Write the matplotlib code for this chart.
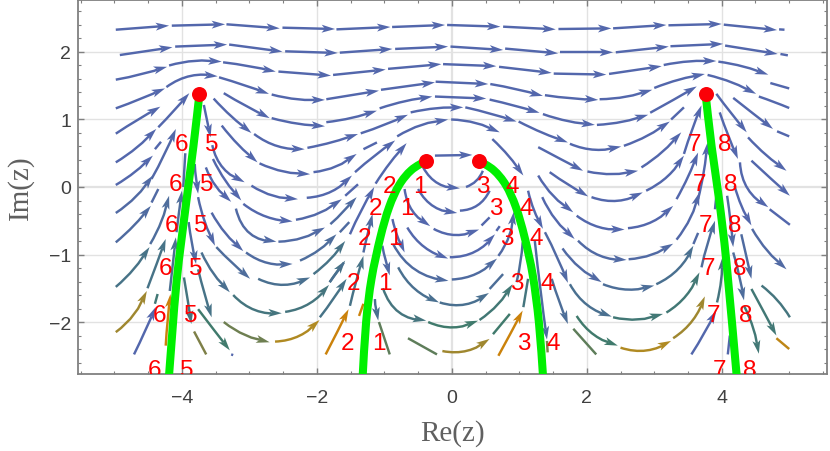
import numpy as np
import matplotlib
matplotlib.use("Agg")
from matplotlib import pyplot as plt
from matplotlib.colors import LinearSegmentedColormap
from matplotlib.patches import PathPatch, Polygon
from matplotlib.path import Path
from matplotlib.transforms import IdentityTransform

# stream pieces: (speed level, points), arrow at the last point
top_rows = [
    (0, [(-4.98, 2.33), (-4.19, 2.39)]), (0, [(-4.15, 2.39), (-3.36, 2.41)]),
    (0, [(-3.34, 2.41), (-2.55, 2.35)]), (0, [(-2.51, 2.36), (-1.73, 2.34)]),
    (0, [(-1.71, 2.335), (-0.91, 2.37)]), (0, [(-0.885, 2.37), (-0.10, 2.40)]),
    (0, [(-0.07, 2.40), (0.72, 2.375)]), (0, [(0.76, 2.375), (1.54, 2.335)]),
    (0, [(1.58, 2.34), (2.365, 2.35)]), (0, [(2.39, 2.35), (3.18, 2.40)]),
    (0, [(3.21, 2.395), (4.0, 2.415)]), (0, [(4.03, 2.405), (4.82, 2.325)]),
    (0, [(-4.92, 1.955), (-4.14, 2.07)]), (0, [(-4.10, 2.08), (-3.33, 2.11)]),
    (0, [(-3.30, 2.11), (-2.51, 2.005)]), (0, [(-2.47, 2.01), (-1.69, 1.985)]),
    (0, [(-1.66, 1.99), (-0.88, 2.045)]), (0, [(-0.84, 2.045), (-0.055, 2.08)]),
    (0, [(-0.02, 2.08), (0.76, 2.03)]), (0, [(0.79, 2.05), (1.575, 1.98)]),
    (0, [(1.61, 1.995), (2.39, 1.995)]), (0, [(2.43, 1.995), (3.215, 2.08)]),
    (0, [(3.24, 2.085), (4.02, 2.12)]), (0, [(4.05, 2.095), (4.83, 1.97)]),
    (0, [(-4.98, 1.59), (-4.6, 1.67), (-4.22, 1.78)]), (0, [(-4.19, 1.80), (-3.8, 1.87), (-3.41, 1.857)]),
    (0, [(-3.39, 1.847), (-3.0, 1.79), (-2.61, 1.71)]), (0, [(-2.57, 1.71), (-1.79, 1.65)]),
    (0, [(-1.76, 1.66), (-0.98, 1.74)]), (0, [(-0.945, 1.75), (-0.155, 1.82)]),
    (0, [(-0.13, 1.82), (0.66, 1.79)]), (0, [(0.70, 1.78), (1.48, 1.69)]),
    (0, [(1.51, 1.68), (2.29, 1.665)]), (0, [(2.33, 1.675), (3.11, 1.79)]),
    (0, [(3.14, 1.807), (3.5, 1.86), (3.92, 1.866)]), (0, [(3.95, 1.857), (4.3, 1.79), (4.69, 1.664)]),
    (0, [(-4.98, 1.165), (-4.6, 1.31), (-4.25, 1.46)]), (0, [(-4.23, 1.48), (-3.85, 1.65), (-3.47, 1.64)]),
    (0, [(-3.45, 1.625), (-3.05, 1.5), (-2.71, 1.38)]), (0, [(-2.67, 1.37), (-2.3, 1.3), (-1.88, 1.29)]),
    (0, [(-1.86, 1.30), (-1.08, 1.427)]), (0, [(-1.05, 1.44), (-0.25, 1.55)]),
    (0, [(-0.24, 1.56), (0.54, 1.525)]), (0, [(0.57, 1.525), (1.0, 1.44), (1.35, 1.35)]),
    (0, [(1.38, 1.36), (1.8, 1.31), (2.17, 1.29)]), (0, [(2.19, 1.30), (2.6, 1.34), (2.97, 1.44)]),
    (0, [(3.0, 1.467), (3.4, 1.6), (3.75, 1.674)]), (0, [(3.79, 1.66), (4.15, 1.55), (4.51, 1.38)]),
    (0, [(-3.38, 1.39), (-3.05, 1.2), (-2.70, 1.02)]), (0, [(-2.67, 1.02), (-2.3, 0.94), (-1.88, 0.90)]),
    (0, [(-1.86, 0.96), (-1.5, 1.02), (-1.11, 1.13)]), (0, [(-1.07, 1.165), (-0.7, 1.27), (-0.29, 1.34)]),
    (0, [(-0.25, 1.34), (0.51, 1.31)]), (0, [(0.56, 1.295), (0.95, 1.2), (1.30, 1.10)]),
    (0, [(1.35, 1.08), (1.7, 0.98), (2.12, 0.92)]), (0, [(2.15, 0.92), (2.55, 0.97), (2.91, 1.07)]),
    (0, [(2.94, 1.10), (3.3, 1.3), (3.63, 1.49)]),
    (0, [(-3.53, 1.31), (-3.25, 1.03), (-2.97, 0.80)]), (0, [(-2.93, 0.785), (-2.6, 0.61), (-2.18, 0.56)]),
    (0, [(-2.14, 0.58), (-1.75, 0.67), (-1.39, 0.785)]), (0, [(-1.35, 0.795), (-1.0, 0.92), (-0.65, 1.07)]),
    (0, [(-0.61, 1.105), (-0.2, 1.17), (0.17, 1.18)]), (0, [(0.2, 1.18), (0.6, 1.08), (0.96, 0.97)]),
    (0, [(0.99, 0.97), (1.35, 0.8), (1.72, 0.66)]), (0, [(1.75, 0.64), (2.14, 0.55), (2.51, 0.60)]),
    (0, [(2.55, 0.61), (2.9, 0.76), (3.23, 0.97)]),
    (0, [(-0.81, 0.75), (-0.45, 0.92), (-0.055, 1.0)]), (0, [(-0.01, 1.0), (0.35, 0.95), (0.71, 0.81)]),
]

left_lobe = [
    (0, [(-4.98, 0.79), (-4.65, 1.0), (-4.32, 1.19)]), (0, [(-4.98, 0.365), (-4.65, 0.6), (-4.38, 0.86)]),
    (0, [(-4.35, 0.885), (-4.1, 1.15), (-3.89, 1.39)]), (0, [(-4.98, 0.03), (-4.7, 0.22), (-4.43, 0.465)]),
    (0.05, [(-4.45, 0.12), (-4.27, 0.46), (-4.09, 0.86)]), (0.1, [(-4.98, -0.385), (-4.72, -0.18), (-4.43, 0.17)]),
    (0.15, [(-4.98, -0.82), (-4.72, -0.58), (-4.46, -0.28)]), (0.2, [(-4.47, -0.845), (-4.3, -0.5), (-4.19, -0.13)]),
    (0.35, [(-4.98, -1.48), (-4.7, -1.2), (-4.48, -0.89)]), (0.35, [(-4.51, -1.5), (-4.36, -1.1), (-4.24, -0.77)]),
    (0.3, [(-4.18, -1.54), (-4.13, -1.1), (-4.09, -0.745)]), (0.2, [(-4.08, -0.67), (-4.04, -0.35), (-4.0, -0.055)]),
    (0.8, [(-4.98, -2.15), (-4.72, -1.9), (-4.52, -1.54)]), (1, [(-4.71, -2.48), (-4.53, -2.1), (-4.39, -1.78)]),
    (0.95, [(-4.24, -2.35), (-4.21, -1.95), (-4.17, -1.585)]),
    (0, [(-3.675, 1.215), (-3.62, 0.95), (-3.575, 0.735)]), (0, [(-3.55, 0.62), (-3.38, 0.27), (-3.07, 0.07)]),
    (0, [(-3.54, 0.415), (-3.36, 0.1), (-3.12, -0.2)]), (0, [(-3.645, 0.29), (-3.49, 0.0), (-3.27, -0.22)]),
    (0, [(-3.81, 0.34), (-3.79, 0.1), (-3.76, -0.1)]), (0.05, [(-3.76, -0.15), (-3.65, -0.55), (-3.51, -0.87)]),
    (0.05, [(-3.56, -0.38), (-3.36, -0.68), (-3.09, -0.95)]), (0.2, [(-3.49, -0.89), (-3.24, -1.14), (-2.99, -1.36)]),
    (0.3, [(-3.71, -0.97), (-3.52, -1.3), (-3.29, -1.56)]), (0.15, [(-3.9, -0.52), (-3.85, -0.85), (-3.79, -1.14)]),
    (0.35, [(-3.76, -1.22), (-3.66, -1.6), (-3.56, -1.93)]), (0.5, [(-3.76, -1.81), (-3.5, -2.15), (-3.29, -2.42)]),
    (0.4, [(-3.97, -1.34), (-3.91, -1.7), (-3.86, -2.03)]),
    (0, [(-3.41, 0.91), (-3.12, 0.58), (-2.88, 0.365)]), (0, [(-2.85, 0.35), (-2.5, 0.23), (-2.10, 0.19)]),
    (0, [(-2.05, 0.22), (-1.7, 0.31), (-1.41, 0.49)]), (0, [(-2.97, 0.02), (-2.65, -0.13), (-2.28, -0.18)]),
    (0, [(-2.15, -0.16), (-1.75, -0.05), (-1.48, 0.17)]), (0, [(-1.435, 0.22), (-1.15, 0.46), (-0.84, 0.69)]),
    (0, [(-3.09, -0.25), (-2.75, -0.44), (-2.36, -0.51)]), (0.05, [(-2.31, -0.485), (-1.95, -0.38), (-1.63, -0.18)]),
    (0.1, [(-3.2, -0.32), (-2.95, -0.72), (-2.6, -0.81)]), (0.1, [(-2.57, -0.81), (-2.2, -0.75), (-1.88, -0.6)]),
    (0.15, [(-1.8, -0.55), (-1.6, -0.36), (-1.41, -0.15)]), (0.15, [(-3.05, -0.97), (-2.75, -1.12), (-2.36, -1.14)]),
    (0.2, [(-2.25, -1.09), (-1.95, -0.92), (-1.71, -0.70)]), (0.3, [(-2.87, -1.36), (-2.5, -1.45), (-2.1, -1.34)]),
    (0.35, [(-2.05, -1.29), (-1.8, -1.07), (-1.58, -0.8)]), (0.4, [(-3.24, -1.6), (-2.9, -1.83), (-2.52, -1.87)]),
    (0.4, [(-2.47, -1.85), (-2.1, -1.72), (-1.82, -1.45)]), (0.65, [(-3.38, -2.0), (-3.0, -2.22), (-2.7, -2.30)]),
    (0.85, [(-2.62, -2.29), (-2.25, -2.2), (-1.96, -1.97)]),
]

middle_arches = [
    (0, [(-1.51, -0.70), (-1.36, -0.38), (-1.15, 0.0)]), (0, [(-1.13, 0.05), (-0.93, 0.34), (-0.67, 0.65)]),
    (0, [(-0.25, 0.465), (0.305, 0.475)]), (0, [(-0.425, 0.29), (-0.2, 0.05), (0.12, -0.02)]),
    (0.15, [(-1.31, -0.97), (-1.25, -0.7), (-1.175, -0.40)]), (0.35, [(-1.51, -1.76), (-1.42, -1.4), (-1.31, -1.02)]),
    (0.35, [(-1.956, -1.93), (-1.75, -1.65), (-1.56, -1.36)]), (0.95, [(-1.87, -2.48), (-1.7, -2.15), (-1.53, -1.81)]),
    (0.35, [(-1.81, -1.41), (-1.7, -1.25), (-1.58, -1.09)]), (0.3, [(-1.14, -1.66), (-1.12, -1.85), (-1.09, -1.98)]),
    (0, [(-0.50, -0.03), (-0.25, -0.3), (0.08, -0.385)]),
    (0, [(-0.70, -0.03), (-0.58, -0.36), (-0.32, -0.58)]), (0, [(-0.27, -0.62), (0.02, -0.71), (0.405, -0.63)]),
    (0, [(-0.88, -0.475), (-0.8, -0.75), (-0.70, -0.97)]), (0, [(-0.66, -0.60), (-0.42, -0.88), (-0.055, -1.06)]),
    (0, [(-0.03, -1.04), (0.32, -0.97), (0.64, -0.70)]),
    (0.1, [(-1.03, -0.87), (-0.98, -1.1), (-0.92, -1.31)]), (0.15, [(-0.87, -0.845), (-0.55, -1.22), (-0.05, -1.39)]),
    (0.15, [(0.0, -1.37), (0.33, -1.3), (0.67, -1.06)]), (0.1, [(0.69, -1.02), (0.86, -0.7), (0.92, -0.365)]),
    (0.3, [(-0.795, -1.19), (-0.5, -1.55), (-0.19, -1.71)]), (0.3, [(-0.18, -1.71), (0.2, -1.74), (0.55, -1.57)]),
    (0.4, [(-1.02, -1.5), (-0.75, -1.88), (-0.38, -1.98)]), (0.5, [(-0.35, -2.0), (0.02, -2.08), (0.39, -1.98)]),
    (0.45, [(0.41, -1.97), (0.7, -1.72), (0.9, -1.44)]),
    (0.8, [(-0.14, -2.43), (0.25, -2.42), (0.56, -2.25)]), (0.95, [(0.69, -2.5), (0.88, -2.15), (1.05, -1.83)]),
    (0, [(0.60, 0.71), (0.85, 0.45), (1.06, 0.17)]), (0, [(1.13, -0.055), (1.22, -0.35), (1.35, -0.62)]),
    (0.15, [(1.23, -0.8), (1.31, -1.5), (1.41, -2.26)]),
]

right_lobe = [
    (0, [(1.28, 0.59), (1.6, 0.42), (1.945, 0.24)]), (0, [(2.01, 0.23), (2.39, 0.19), (2.76, 0.24)]),
    (0, [(2.81, 0.29), (3.12, 0.52), (3.40, 0.81)]), (0, [(1.45, 0.22), (1.7, 0.05), (2.02, -0.14)]),
    (0, [(2.07, -0.15), (2.5, -0.2), (2.83, -0.08)]), (0, [(2.88, -0.055), (3.2, 0.16), (3.44, 0.465)]),
    (0, [(1.28, 0.17), (1.52, -0.15), (1.8, -0.375)]), (0, [(1.85, -0.425), (2.2, -0.6), (2.56, -0.63)]),
    (0, [(2.61, -0.61), (3.0, -0.5), (3.28, -0.28)]), (0, [(3.33, -0.18), (3.5, 0.15), (3.65, 0.51)]),
    (0, [(1.34, -0.15), (1.55, -0.5), (1.82, -0.77)]), (0.1, [(1.87, -0.795), (2.2, -1.02), (2.59, -1.08)]),
    (0.1, [(2.62, -1.07), (3.0, -0.99), (3.28, -0.84)]), (0.05, [(3.33, -0.78), (3.53, -0.47), (3.67, -0.08)]),
    (0.1, [(1.64, -0.91), (1.9, -1.2), (2.22, -1.41)]), (0.25, [(2.24, -1.44), (2.6, -1.52), (3.0, -1.46)]),
    (0.3, [(3.03, -1.44), (3.35, -1.22), (3.58, -0.87)]), (0.2, [(3.7, -1.19), (3.8, -0.8), (3.9, -0.5)]),
    (0.1, [(1.38, -0.67), (1.58, -1.08), (1.72, -1.42)]), (0.3, [(1.75, -1.44), (2.05, -1.78), (2.37, -1.92)]),
    (0.45, [(2.39, -1.93), (2.8, -1.96), (3.13, -1.88)]), (0.45, [(3.18, -1.86), (3.48, -1.6), (3.67, -1.265)]),
    (0.25, [(1.48, -1.36), (1.6, -1.72), (1.72, -2.03)]), (0.5, [(1.85, -1.91), (2.15, -2.22), (2.46, -2.35)]),
    (0.85, [(2.5, -2.38), (2.9, -2.42), (3.25, -2.28)]), (0.8, [(3.28, -2.24), (3.55, -2.0), (3.75, -1.62)]),
    (1, [(3.55, -2.48), (3.75, -2.15), (3.92, -1.83)]), (0.4, [(3.93, -1.71), (4.0, -1.3), (4.01, -1.04)]),
    (0, [(3.44, 0.49), (3.56, 0.85), (3.70, 1.21)]), (0, [(3.65, -0.18), (3.73, 0.2), (3.79, 0.66)]),
    (0, [(3.92, 1.38), (4.15, 1.08), (4.37, 0.81)]), (0, [(4.39, 0.735), (4.65, 0.48), (4.96, 0.24)]),
    (0, [(4.17, 1.32), (4.45, 1.1), (4.76, 0.86)]), (0, [(3.97, 1.105), (4.1, 0.75), (4.24, 0.415)]),
    (0, [(4.44, 0.39), (4.7, 0.15), (5.01, -0.13)]), (0, [(4.27, 0.365), (4.4, -0.05), (4.69, -0.3)]),
    (0, [(4.19, 0.02), (4.3, -0.3), (4.44, -0.57)]), (0.1, [(4.08, -0.13), (4.13, -0.5), (4.17, -0.89)]),
    (0.2, [(4.17, -0.97), (4.28, -1.4), (4.33, -1.68)]), (0.45, [(4.33, -1.76), (4.47, -2.1), (4.55, -2.47)]),
    (0.15, [(4.29, -0.70), (4.37, -1.05), (4.44, -1.36)]), (0.45, [(4.44, -1.51), (4.65, -1.9), (4.81, -2.2)]),
    (0.1, [(4.45, -0.62), (4.68, -0.95), (4.96, -1.22)]),
]

# short pieces with no arrow head
tails = [
    (0, [(4.85, 2.335), (4.93, 2.33)]), (0, [(4.87, 1.97), (4.98, 1.95)]), (0, [(4.72, 1.54), (5.0, 1.46)]),
    (0, [(4.55, 1.34), (4.8, 1.25), (5.0, 1.17)]), (0, [(4.82, 0.825), (5.0, 0.75)]), (0, [(3.25, 1.0), (3.44, 1.18)]),
    (0, [(-4.40, 0.56), (-4.31, 0.67)]), (0.1, [(-4.45, -0.23), (-4.35, -0.03)]), (0.1, [(-3.98, 0.0), (-3.95, 0.50)]),
    (0.45, [(-4.36, -1.585), (-4.40, -1.73)]), (0.7, [(-3.82, -2.14), (-3.64, -2.48)]), (1, [(-3.27, -2.48), (-3.24, -2.49)]),
    (0, [(-1.31, 0.56), (-1.11, 0.66)]), (0, [(-1.58, -0.13), (-1.39, 0.04)]), (0.15, [(-1.66, -0.67), (-1.52, -0.52)]),
    (0.3, [(-1.81, -1.41), (-1.6, -1.12)]),
    (0, [(0.44, -0.57), (0.56, -0.45)]), (0, [(0.66, -0.65), (0.71, -0.58)]), (0, [(0.12, -0.35), (0.35, -0.29), (0.56, -0.055)]),
    (0, [(0.21, 0.0), (0.35, 0.08), (0.46, 0.24)]), (0.25, [(0.56, -1.51), (0.76, -1.29)]),
    (0.25, [(0.96, -1.41), (1.02, -1.1), (1.05, -0.82)]), (0.7, [(1.41, -2.28), (1.42, -2.45)]),
    (0.6, [(-0.65, -2.24), (-0.22, -2.48)]), (0.5, [(0.61, -2.18), (0.86, -1.88)]), (0.4, [(1.06, -1.78), (1.13, -1.36)]),
    (0.6, [(-1.08, -2.0), (-0.92, -2.48)]), (0.95, [(-1.375, -1.91), (-1.31, -1.73)]), (0.6, [(1.8, -2.10), (2.14, -2.48)]),
    (0.1, [(3.58, -0.845), (3.65, -0.68)]), (0.1, [(3.9, -0.33), (3.93, -0.03)]), (1, [(4.09, -2.48), (4.12, -2.2)]),
    (0.9, [(4.81, -2.24), (5.0, -2.4)]), (0.4, [(4.59, -1.46), (4.8, -1.65), (5.01, -1.93)]), (0, [(4.71, -0.33), (5.01, -0.56)]),
]

# thick green curves and the red end points
green_x = [[-3.74, -3.83, -3.93, -4.08, -4.19],
           [-0.38, -0.6, -0.78, -0.93, -1.06, -1.19, -1.27, -1.32],
           [0.40, 0.62, 0.8, 0.95, 1.08, 1.2, 1.29, 1.35],
           [3.76, 3.85, 3.96, 4.07, 4.22]]
green_y = [[1.38, 0.6, -0.18, -1.41, -2.78],
           [0.39, 0.25, 0.03, -0.3, -0.75, -1.36, -2.0, -2.78],
           [0.39, 0.25, 0.03, -0.3, -0.75, -1.31, -2.0, -2.78],
           [1.38, 0.6, -0.18, -1.12, -2.78]]
dots_x = [-3.74, -0.38, 0.40, 3.76]
dots_y = [1.38, 0.39, 0.39, 1.38]

# red branch numbers
label_y_outer = [0.64, 0.05, -0.56, -1.2, -1.9, -2.71]
label_y_inner = [0.01, -0.31, -0.76, -1.42, -2.31]
labels = {
    "6": ([-4.0, -4.09, -4.16, -4.24, -4.33, -4.41], label_y_outer),
    "5": ([-3.56, -3.63, -3.72, -3.79, -3.87, -3.93], label_y_outer),
    "7": ([3.59, 3.67, 3.76, 3.80, 3.88, 3.96], label_y_outer),
    "8": ([4.05, 4.13, 4.19, 4.27, 4.35, 4.42], label_y_outer),
    "2": ([-0.93, -1.13, -1.29, -1.45, -1.55], label_y_inner),
    "1": ([-0.47, -0.67, -0.84, -0.99, -1.08], label_y_inner),
    "3": ([0.46, 0.65, 0.81, 0.96, 1.07], label_y_inner),
    "4": ([0.90, 1.10, 1.25, 1.41, 1.51], label_y_inner),
}

speed_map = LinearSegmentedColormap.from_list("speed", [
    (0, "#5367ac"), (0.25, "#4d6e98"), (0.5, "#3f7a6c"), (0.7, "#7d8048"), (0.85, "#b08a22"), (1, "#d87f00")])

HEAD_LEN = 13.5
HEAD_HALF = 4.0


def smooth_path(pts):
    # 2 points: straight, 3 points: one parabola, more: Catmull-Rom
    pts = np.array(pts, dtype=float)
    if len(pts) == 2:
        return Path(pts)
    if len(pts) == 3:
        d0 = np.hypot(*(pts[1] - pts[0]))
        d1 = np.hypot(*(pts[2] - pts[1]))
        t = d0 / (d0 + d1)
        ctrl = (pts[1] - (1 - t) ** 2 * pts[0] - t ** 2 * pts[2]) / (2 * t * (1 - t))
        return Path([pts[0], ctrl, pts[2]], [Path.MOVETO, Path.CURVE3, Path.CURVE3])
    verts = [pts[0]]
    codes = [Path.MOVETO]
    for i in range(len(pts) - 1):
        p0 = pts[max(i - 1, 0)]
        p1, p2 = pts[i], pts[i + 1]
        p3 = pts[min(i + 2, len(pts) - 1)]
        verts += [p1 + (p2 - p0) / 6, p2 - (p3 - p1) / 6, p2]
        codes += [Path.CURVE4] * 3
    return Path(verts, codes)


def draw_piece(ax, speed, pts, arrow=True):
    c = speed_map(speed)
    # work in pixels so the heads keep one size
    line = ax.transData.transform_path(smooth_path(pts)).to_polygons(closed_only=False)[0]
    if arrow:
        tip = line[-1]
        dist = np.hypot(*(line - tip).T)
        far = np.argmax(dist < HEAD_LEN) - 1
        back = line[max(far, 0)]
        u = (tip - back) / np.hypot(*(tip - back))
        n = np.array([-u[1], u[0]])
        ax.add_patch(Polygon([tip, tip - HEAD_LEN * u + HEAD_HALF * n, tip - 0.75 * HEAD_LEN * u,
                              tip - HEAD_LEN * u - HEAD_HALF * n], closed=True, fc=c, ec="none",
                             transform=IdentityTransform(), zorder=2))
        line = np.vstack([line[dist > 0.75 * HEAD_LEN], tip - 0.75 * HEAD_LEN * u])
    ax.add_patch(PathPatch(Path(line), fc="none", ec=c, lw=1.75, capstyle="butt",
                           transform=IdentityTransform(), zorder=2))


fig = plt.figure(figsize=(8.30, 4.52), dpi=100)
ax = fig.add_axes([78 / 830, 1 - 375 / 452, (827 - 78) / 830, 374 / 452])
ax.set_xlim(-5.54, 5.56)
ax.set_ylim(-2.77, 2.77)

for x in [-4, -2, 0, 2, 4]:
    ax.axvline(x, color="#e2e2e2", lw=1.6 if x == 0 else 1.0, zorder=0)
for y in [-2, -1, 0, 1, 2]:
    ax.axhline(y, color="#e2e2e2", lw=1.6 if y == 0 else 1.0, zorder=0)

for group in [top_rows, left_lobe, middle_arches, right_lobe]:
    for speed, pts in group:
        draw_piece(ax, speed, pts)
for speed, pts in tails:
    draw_piece(ax, speed, pts, arrow=False)

for xs, ys in zip(green_x, green_y):
    ax.add_patch(PathPatch(smooth_path(list(zip(xs, ys))), fc="none", ec="#00f000", lw=5.8, capstyle="butt", zorder=3))
ax.plot(dots_x, dots_y, "o", color="#fb0007", ms=10.8, mew=0, zorder=4)

for txt, (xs, ys) in labels.items():
    for x, y in zip(xs, ys):
        ax.text(x, y, txt, color="red", fontsize=17.5, family="Liberation Sans",
                ha="center", va="center", zorder=5, clip_on=True)

ax.set_xticks([-4, -2, 0, 2, 4])
ax.set_xticklabels(["\u22124", "\u22122", "0", "2", "4"])
ax.set_yticks([-2, -1, 0, 1, 2])
ax.set_yticklabels(["\u22122", "\u22121", "0", "1", "2"])
ax.set_xticks(np.arange(-5.5, 5.6, 0.5), minor=True)
ax.set_yticks(np.arange(-2.6, 2.7, 0.2), minor=True)
ax.tick_params(which="major", direction="in", length=4, width=1, color="#808080", top=True, right=True,
               labelsize=14, labelcolor="#404040")
ax.tick_params(which="minor", direction="in", length=2.5, width=0.8, color="#808080", top=True, right=True)
ax.tick_params(axis="x", which="major", pad=11)
ax.tick_params(axis="y", which="major", pad=5)
for lab in ax.get_xticklabels() + ax.get_yticklabels():
    lab.set_family("Liberation Sans")
for sp in ax.spines.values():
    sp.set_color("#808080")
    sp.set_linewidth(1.3)

ax.set_xlabel("Re(z)", family="Liberation Serif", fontsize=21, color="#606060", labelpad=9)
ax.set_ylabel("Im(z)", family="Liberation Serif", fontsize=21, color="#606060", labelpad=11)

fig.savefig("out.png", dpi=100)
